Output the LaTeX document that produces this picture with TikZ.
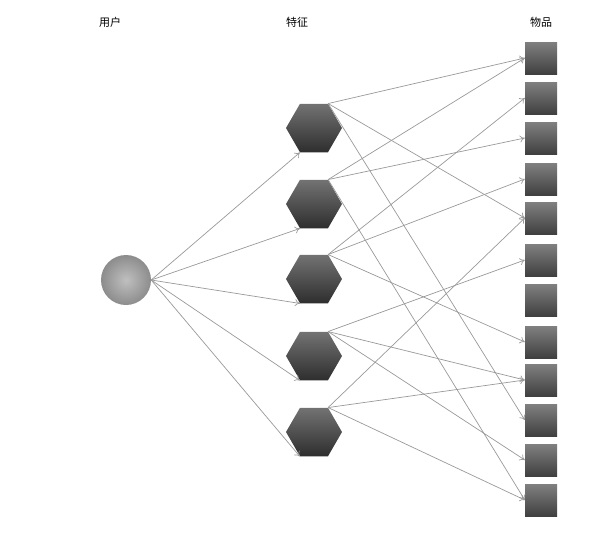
\documentclass[tikz,border=0pt]{standalone}
\usepackage{fontspec}
\newfontfamily\cjk{Noto Sans CJK SC}
\usetikzlibrary{shapes.geometric,arrows.meta}
\begin{document}
\begin{tikzpicture}[x=1pt,y=-1pt,
  hexbox/.style={regular polygon,regular polygon sides=6,minimum size=56pt,inner sep=0pt,top color=black!55,bottom color=black!82,draw=none},
  itembox/.style={rectangle,minimum width=32pt,minimum height=32pt,inner sep=0pt,top color=black!50,bottom color=black!75,draw=none},
  userbox/.style={circle,minimum size=50pt,inner sep=0pt,inner color=black!25,outer color=black!45,draw=none},
  conn/.style={draw=black!40,line width=0.7pt,-{To[length=5pt,width=7pt]}},
  lbl/.style={font=\cjk\fontsize{11}{13}\selectfont}]
\useasboundingbox (0,0) rectangle (606,536);
\node[lbl] (lu) at (110,22) {用户};
\node[lbl] (lf) at (297,22) {特征};
\node[lbl] (li) at (541,22) {物品};
\node[userbox] (u) at (126,280) {};
\foreach \i/\y in {1/128,2/204,3/279,4/356,5/432} \node[hexbox] (h\i) at (314,\y) {};
\foreach \i/\y in {1/58,2/98,3/138,4/179,5/218,6/260,7/300,8/342,9/380,10/420,11/460,12/500} \node[itembox] (s\i) at (541,\y) {};
\foreach \i in {1,...,5} \draw[conn] (u.east) -- (h\i.corner 4);
\foreach \h/\s in {1/1,1/5,1/10,2/1,2/3,2/12,3/2,3/4,3/8,4/6,4/9,4/11,5/5,5/9,5/12}
  \draw[conn] (h\h.corner 1) -- (s\s.west);
\end{tikzpicture}
\end{document}
